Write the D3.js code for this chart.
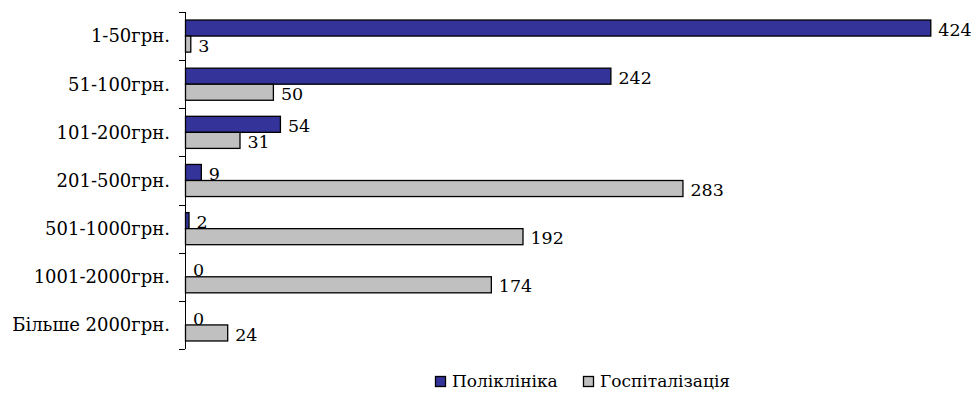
<!DOCTYPE html>
<html><head><meta charset="utf-8">
<script src="https://cdn.jsdelivr.net/npm/d3@7"></script>
<style>body{margin:0;background:#fff}svg{display:block}text{font-family:"DejaVu Serif",serif}</style>
</head><body><svg id="c" width="976" height="394"></svg>
<script>
const categories=["1-50грн.","51-100грн.","101-200грн.","201-500грн.","501-1000грн.","1001-2000грн.","Більше 2000грн."];
const seriesNames=["Поліклініка","Госпіталізація"];
const polyclinic=[424,242,54,9,2,0,0];
const hospital=[3,50,31,283,192,174,24];
const colors=["#333399","#C0C0C0"];
const svg=d3.select("#c");
const x=d3.scaleLinear().domain([0,450]).range([185,976]);
const y=d3.scaleBand().domain(categories).range([12,349]);
const inner=d3.scaleBand().domain([0,1]).range([0,y.bandwidth()]).paddingOuter(0.5);
// axis
svg.append("line").attr("x1",185.5).attr("x2",185.5).attr("y1",12).attr("y2",349).attr("stroke","#000");
const bounds=categories.map(c=>y(c)).concat([y.range()[1]]);
svg.selectAll(".tk").data(bounds).join("line").attr("x1",179).attr("x2",185).attr("y1",d=>Math.round(d)+0.5).attr("y2",d=>Math.round(d)+0.5).attr("stroke","#000");
svg.selectAll(".cl").data(categories).join("text").attr("x",170).attr("y",c=>y(c)+y.bandwidth()/2).attr("dy","0.35em").attr("text-anchor","end").attr("font-size",18).attr("fill","#000").text(c=>c);
const series=[polyclinic,hospital];
series.forEach((vals,si)=>{
  const g=svg.append("g");
  g.selectAll("rect").data(vals.map((v,i)=>({v,c:categories[i]}))).join("rect")
    .filter(d=>d.v>0)
    .attr("x",x(0)+0.5).attr("y",d=>y(d.c)+inner(si)).attr("width",d=>x(d.v)-x(0)).attr("height",inner.bandwidth())
    .attr("fill",colors[si]).attr("stroke","#000").attr("stroke-width",1.3);
  g.selectAll("text").data(vals.map((v,i)=>({v,c:categories[i]}))).join("text")
    .attr("x",d=>x(d.v)+8).attr("y",d=>y(d.c)+inner(si)+inner.bandwidth()/2+1.5).attr("dy","0.35em")
    .attr("font-size",17.5).attr("fill","#000").text(d=>d.v);
});
// legend
const leg=svg.append("g");
const lx=[435,583];
seriesNames.forEach((n,i)=>{
  leg.append("rect").attr("x",lx[i]+0.5).attr("y",376.5).attr("width",10).attr("height",10).attr("fill",colors[i]).attr("stroke","#000").attr("stroke-width",1.3);
  leg.append("text").attr("x",lx[i]+17).attr("y",381.5).attr("dy","0.35em").attr("font-size",17).attr("fill","#000").text(n);
});
</script></body></html>
